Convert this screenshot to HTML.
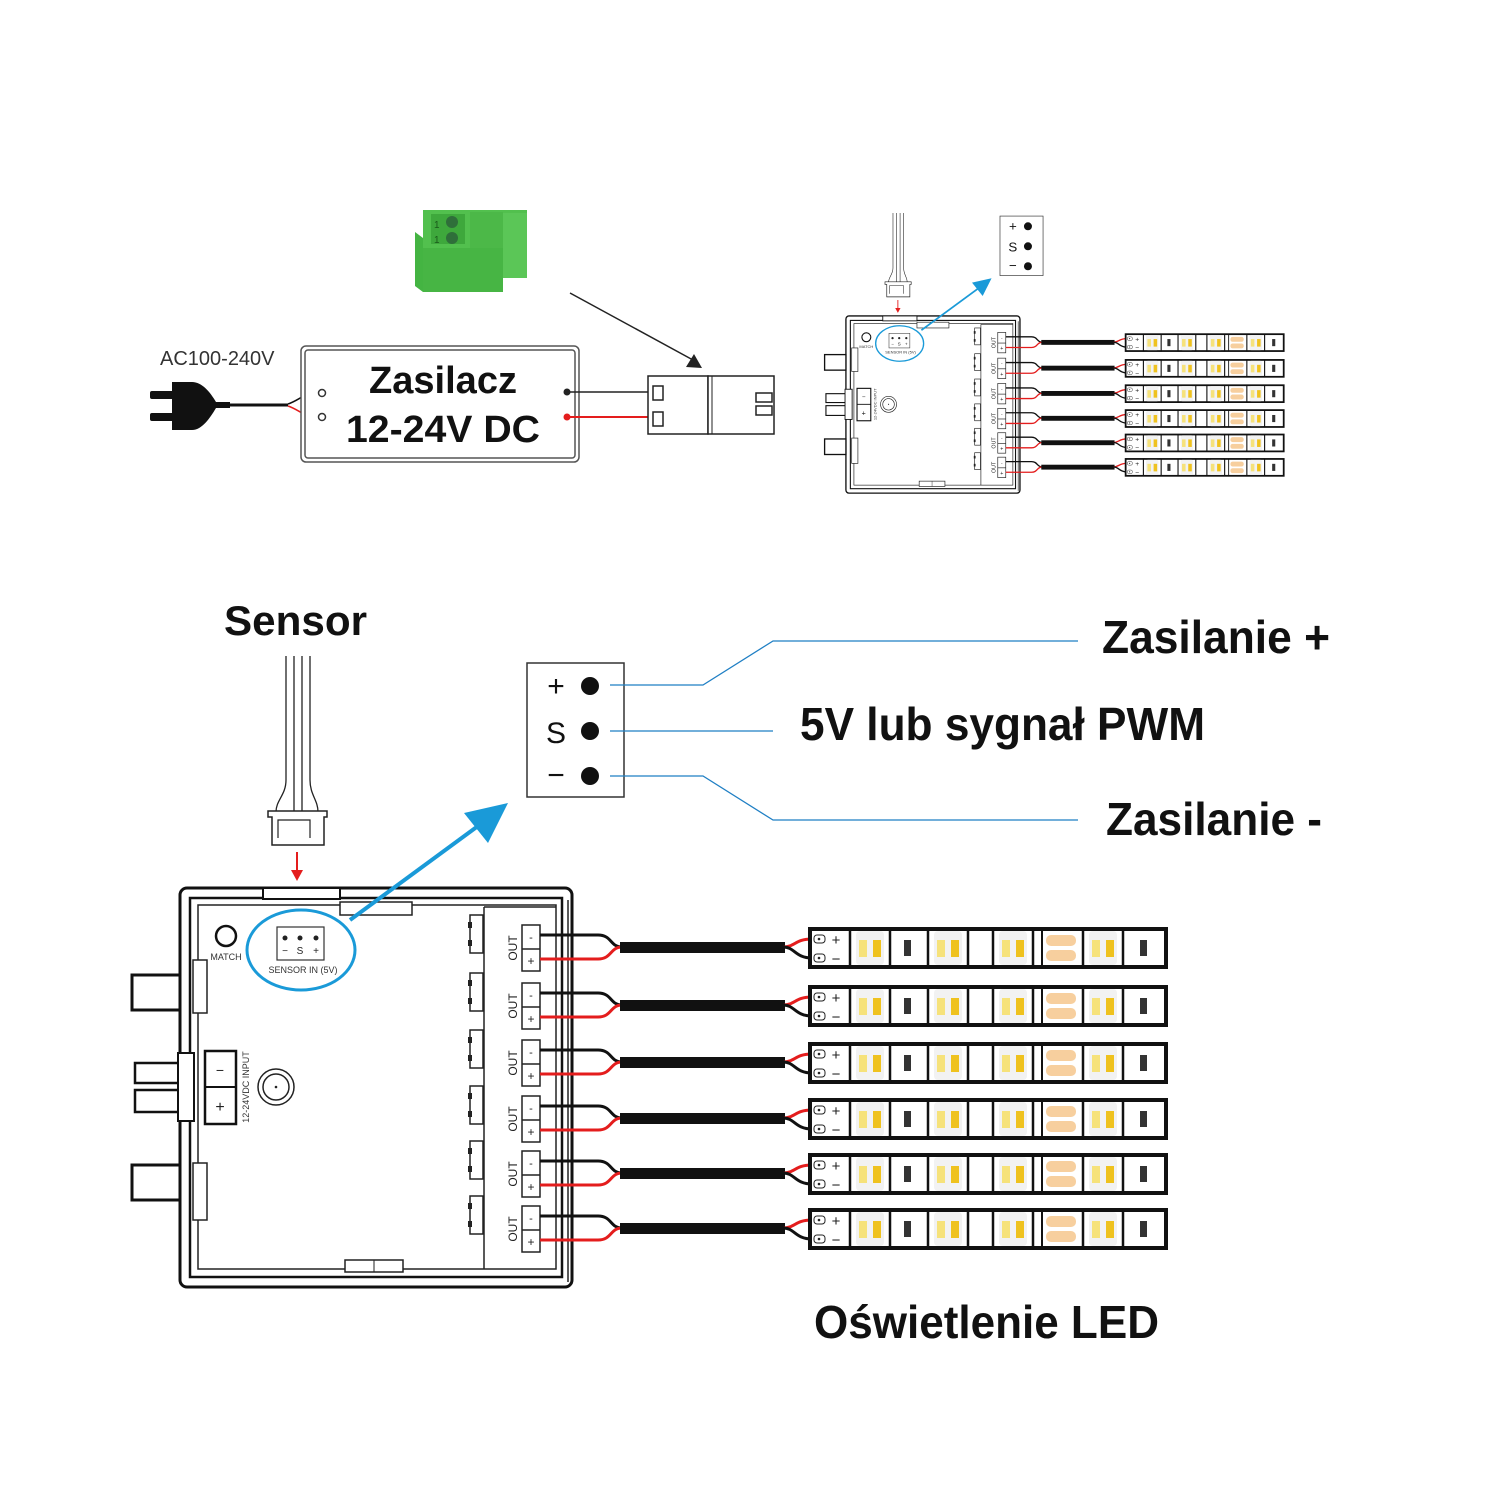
<!DOCTYPE html>
<html><head><meta charset="utf-8"><style>html,body{margin:0;padding:0;background:#fff}svg{display:block}</style></head>
<body>
<svg width="1500" height="1500" viewBox="0 0 1500 1500" xmlns="http://www.w3.org/2000/svg" font-family="'Liberation Sans', sans-serif">
<defs>
<g id="chip">
  <path d="M0,2 v38 h4 M0,2 h4 M40,2 v38 h-4 M40,2 h-4" stroke="#111" stroke-width="2.5" fill="none"/>
  <rect x="6" y="4" width="28" height="34" rx="4" fill="#f2f2f2"/>
  <rect x="9" y="13" width="8" height="17" fill="#f6e27a"/>
  <rect x="23" y="13" width="8" height="17" fill="#efc21e"/>
</g>
<g id="row">
  <rect x="522" y="-2" width="18" height="46" fill="#fff" stroke="#222" stroke-width="1.5"/>
  <line x1="522" y1="22" x2="540" y2="22" stroke="#222" stroke-width="1.5"/>
  <text x="531" y="14" font-size="11" text-anchor="middle" fill="#222">-</text>
  <text x="531" y="38" font-size="12" text-anchor="middle" fill="#222">+</text>
  <text transform="translate(517,21) rotate(-90)" font-size="12" text-anchor="middle" fill="#222">OUT</text>
  <rect x="470" y="-12" width="13" height="38" fill="#fff" stroke="#222" stroke-width="1.5"/>
  <rect x="468" y="-5" width="4" height="6" fill="#222"/><rect x="468" y="13" width="4" height="6" fill="#222"/>
  <path d="M540,8 H598 C612,8 610,20 622,20" stroke="#111" stroke-width="3" fill="none"/>
  <path d="M540,32 H598 C612,32 610,20 622,20" stroke="#e41d1d" stroke-width="3" fill="none"/>
  <rect x="620" y="15" width="165" height="11" fill="#111"/>
  <path d="M783,20 C795,20 795,12 812,12" stroke="#e41d1d" stroke-width="3" fill="none"/>
  <path d="M783,20 C795,20 795,31 812,31" stroke="#111" stroke-width="3" fill="none"/>
  <rect x="810" y="2" width="356" height="38" fill="#fff" stroke="#111" stroke-width="4"/>
  <rect x="814" y="8" width="11" height="8" rx="3" fill="#fff" stroke="#222"/><circle cx="819" cy="12" r="1.3" fill="#222"/>
  <rect x="814" y="27" width="11" height="8" rx="3" fill="#fff" stroke="#222"/><circle cx="819" cy="31" r="1.3" fill="#222"/>
  <text x="836" y="18" font-size="15" text-anchor="middle" fill="#222">+</text>
  <text x="836" y="37" font-size="15" text-anchor="middle" fill="#222">−</text>
  <use href="#chip" x="850" y="0"/>
  <use href="#chip" x="928" y="0"/>
  <use href="#chip" x="993" y="0"/>
  <use href="#chip" x="1083" y="0"/>
  <rect x="904" y="13" width="7" height="16" fill="#333"/>
  <rect x="1140" y="13" width="7" height="16" fill="#333"/>
  <rect x="1046" y="8" width="30" height="11" rx="5" fill="#f7cf9e"/>
  <rect x="1046" y="23" width="30" height="11" rx="5" fill="#f7cf9e"/>
  <line x1="1042" y1="2" x2="1042" y2="40" stroke="#111" stroke-width="2"/>
</g>
</defs>

<!-- TOP LEFT: power supply -->
<text x="160" y="365" font-size="20" fill="#333">AC100-240V</text>
<g fill="#111">
  <rect x="150" y="391" width="25" height="8" rx="2"/>
  <rect x="150" y="413" width="25" height="8" rx="2"/>
  <path d="M172,382 h20 c10,0 18,10 24,20 h14 v6 h-14 c-6,10 -14,22 -24,22 h-20 z"/>
</g>
<path d="M228,405 H288" stroke="#111" stroke-width="3"/>
<path d="M288,404 C300,400 305,392 320,392" stroke="#111" stroke-width="1.5" fill="none"/>
<path d="M288,406 C300,410 305,418 320,418" stroke="#e41d1d" stroke-width="1.5" fill="none"/>
<rect x="301" y="346" width="278" height="116" rx="5" fill="#fff" stroke="#555" stroke-width="1.5"/>
<rect x="305" y="350" width="270" height="108" rx="3" fill="none" stroke="#555" stroke-width="1.5"/>
<circle cx="322" cy="393" r="3.5" fill="#fff" stroke="#333" stroke-width="1.5"/>
<circle cx="322" cy="417" r="3.5" fill="#fff" stroke="#333" stroke-width="1.5"/>
<text x="443" y="393" font-size="38" font-weight="bold" text-anchor="middle" fill="#111" textLength="148" lengthAdjust="spacingAndGlyphs">Zasilacz</text>
<text x="443" y="442" font-size="38" font-weight="bold" text-anchor="middle" fill="#111" textLength="194" lengthAdjust="spacingAndGlyphs">12-24V DC</text>
<circle cx="567" cy="392" r="3.5" fill="#222"/>
<circle cx="567" cy="417" r="3.5" fill="#e41d1d"/>
<line x1="567" y1="392" x2="655" y2="392" stroke="#222" stroke-width="1.5"/>
<line x1="567" y1="417" x2="655" y2="417" stroke="#e41d1d" stroke-width="2"/>
<rect x="648" y="376" width="60" height="58" fill="#fff" stroke="#222" stroke-width="1.5"/>
<rect x="708" y="376" width="66" height="58" fill="#fff" stroke="#222" stroke-width="1.5"/>
<line x1="712" y1="376" x2="712" y2="434" stroke="#222" stroke-width="1"/>
<rect x="653" y="386" width="10" height="14" fill="#fff" stroke="#222" stroke-width="1.5"/>
<rect x="653" y="412" width="10" height="14" fill="#fff" stroke="#222" stroke-width="1.5"/>
<rect x="756" y="393" width="16" height="9" fill="#fff" stroke="#222" stroke-width="1.5"/>
<rect x="756" y="406" width="16" height="9" fill="#fff" stroke="#222" stroke-width="1.5"/>
<line x1="570" y1="293" x2="693" y2="360" stroke="#222" stroke-width="1.5"/>
<polygon points="702,368 686,367 694,354" fill="#222"/>
<!-- green terminal -->
<polygon points="423,238 467,238 467,292 423,292 415,286 415,232" fill="#44b442"/>
<rect x="423" y="210" width="104" height="68" fill="#52c04e"/>
<rect x="470" y="212" width="33" height="66" fill="#4cb848"/>
<rect x="503" y="213" width="24" height="65" fill="#5bc657"/>
<rect x="423" y="248" width="80" height="44" fill="#47b544"/>
<rect x="431" y="214" width="34" height="30" fill="#3ea83c"/>
<circle cx="452" cy="222" r="6" fill="#2f6f3a"/><circle cx="452" cy="238" r="6" fill="#2f6f3a"/>
<text x="434" y="228" font-size="10" fill="#1a5a1a">1</text><text x="434" y="243" font-size="10" fill="#1a5a1a">1</text>

<!-- CONTROLLER (bottom, full size) -->
<g id="ctrl">
  <rect x="180" y="888" width="392" height="399" rx="7" fill="#fff" stroke="#111" stroke-width="3"/>
  <rect x="190" y="898" width="372" height="379" fill="none" stroke="#111" stroke-width="2.5"/>
  <rect x="198" y="905" width="358" height="364" fill="none" stroke="#222" stroke-width="1.5"/>
  <rect x="263" y="888" width="77" height="11" fill="#fff" stroke="#111" stroke-width="2"/>
  <rect x="340" y="902" width="72" height="13" fill="#fff" stroke="#222" stroke-width="1.5"/>
  <rect x="345" y="1260" width="58" height="12" fill="#fff" stroke="#222" stroke-width="1.5"/>
  <line x1="374" y1="1260" x2="374" y2="1272" stroke="#222"/>
  <line x1="484" y1="907" x2="484" y2="1269" stroke="#222" stroke-width="1.5"/>
  <line x1="484" y1="907" x2="556" y2="907" stroke="#222" stroke-width="1.5"/>
  <line x1="568" y1="900" x2="568" y2="1282" stroke="#222" stroke-width="1.5"/>
  <rect x="132" y="975" width="48" height="35" fill="#fff" stroke="#111" stroke-width="3"/>
  <rect x="132" y="1165" width="48" height="35" fill="#fff" stroke="#111" stroke-width="3"/>
  <rect x="135" y="1063" width="50" height="20" fill="#fff" stroke="#111" stroke-width="2.5"/>
  <rect x="135" y="1090" width="50" height="22" fill="#fff" stroke="#111" stroke-width="2.5"/>
  <rect x="178" y="1053" width="16" height="68" fill="#fff" stroke="#111" stroke-width="2"/>
  <rect x="193" y="960" width="14" height="53" fill="#fff" stroke="#222" stroke-width="1.5"/>
  <rect x="193" y="1163" width="14" height="57" fill="#fff" stroke="#222" stroke-width="1.5"/>
  <circle cx="226" cy="936" r="10" fill="#fff" stroke="#111" stroke-width="2.5"/>
  <text x="226" y="960" font-size="9" text-anchor="middle" fill="#333">MATCH</text>
  <rect x="277" y="927" width="47" height="33" fill="#fff" stroke="#333" stroke-width="1.2"/>
  <circle cx="285" cy="938" r="2.5" fill="#222"/><circle cx="300" cy="938" r="2.5" fill="#222"/><circle cx="316" cy="938" r="2.5" fill="#222"/>
  <text x="285" y="954" font-size="10" text-anchor="middle" fill="#222">−</text>
  <text x="300" y="954" font-size="10" text-anchor="middle" fill="#222">S</text>
  <text x="316" y="954" font-size="10" text-anchor="middle" fill="#222">+</text>
  <text x="303" y="973" font-size="9" text-anchor="middle" fill="#333">SENSOR IN (5V)</text>
  <ellipse cx="301" cy="950" rx="54" ry="40" fill="none" stroke="#1a9ad8" stroke-width="3"/>
  <rect x="205" y="1051" width="31" height="73" fill="#fff" stroke="#111" stroke-width="2.5"/>
  <line x1="205" y1="1087" x2="236" y2="1087" stroke="#111" stroke-width="2"/>
  <text x="220" y="1075" font-size="14" text-anchor="middle" fill="#222">−</text>
  <text x="220" y="1112" font-size="16" text-anchor="middle" fill="#222">+</text>
  <text transform="translate(249,1087) rotate(-90)" font-size="9" text-anchor="middle" fill="#333">12-24VDC INPUT</text>
  <circle cx="276" cy="1087" r="18" fill="#fff" stroke="#222" stroke-width="1.5"/>
  <circle cx="276" cy="1087" r="13" fill="none" stroke="#222" stroke-width="1.5"/>
  <circle cx="276" cy="1087" r="1.3" fill="#222"/>
  <use href="#row" y="927"/>
  <use href="#row" y="985"/>
  <use href="#row" y="1042"/>
  <use href="#row" y="1098"/>
  <use href="#row" y="1153"/>
  <use href="#row" y="1208"/>
  <!-- sensor plug -->
  <path d="M286,656 V780 C286,795 276,800 276,812 M294,656 V812 M302,656 V812 M310,656 V780 C310,795 318,800 318,812" stroke="#222" stroke-width="1.3" fill="none"/>
  <path d="M268,811 h59 v6 h-3 v28 h-52 v-28 h-4 z" fill="#fff" stroke="#222" stroke-width="1.5"/>
  <path d="M278,838 v-18 h32 v18" fill="none" stroke="#222" stroke-width="1.2"/>
  <line x1="297" y1="852" x2="297" y2="872" stroke="#e41d1d" stroke-width="2"/>
  <polygon points="291,870 303,870 297,881" fill="#e41d1d"/>
  <line x1="350" y1="920" x2="478" y2="826" stroke="#1a9ad8" stroke-width="4"/>
  <polygon points="508,803 464,813 488,843" fill="#1a9ad8"/>
  <rect x="527" y="663" width="97" height="134" fill="#fff" stroke="#333" stroke-width="1.5"/>
  <text x="556" y="696" font-size="30" text-anchor="middle" fill="#111">+</text>
  <text x="556" y="743" font-size="30" text-anchor="middle" fill="#111">S</text>
  <text x="556" y="785" font-size="30" text-anchor="middle" fill="#111">−</text>
  <circle cx="590" cy="686" r="9" fill="#111"/>
  <circle cx="590" cy="731" r="9" fill="#111"/>
  <circle cx="590" cy="776" r="9" fill="#111"/>
</g>
<use href="#ctrl" transform="translate(766,-78.3) scale(0.444)"/>

<!-- labels -->
<text x="224" y="635" font-size="42" font-weight="bold" fill="#111" textLength="143" lengthAdjust="spacingAndGlyphs">Sensor</text>
<g stroke="#1f7fc4" stroke-width="1.3" fill="none">
  <path d="M610,685 H703 L773,641 H1078"/>
  <path d="M610,731 H773"/>
  <path d="M610,776 H703 L773,820 H1078"/>
</g>
<text x="1102" y="653" font-size="46" font-weight="bold" fill="#111" textLength="228" lengthAdjust="spacingAndGlyphs">Zasilanie +</text>
<text x="800" y="740" font-size="46" font-weight="bold" fill="#111" textLength="405" lengthAdjust="spacingAndGlyphs">5V lub sygnał PWM</text>
<text x="1106" y="835" font-size="46" font-weight="bold" fill="#111" textLength="216" lengthAdjust="spacingAndGlyphs">Zasilanie -</text>
<text x="814" y="1338" font-size="46" font-weight="bold" fill="#111" textLength="345" lengthAdjust="spacingAndGlyphs">Oświetlenie LED</text>
</svg>
</body></html>
